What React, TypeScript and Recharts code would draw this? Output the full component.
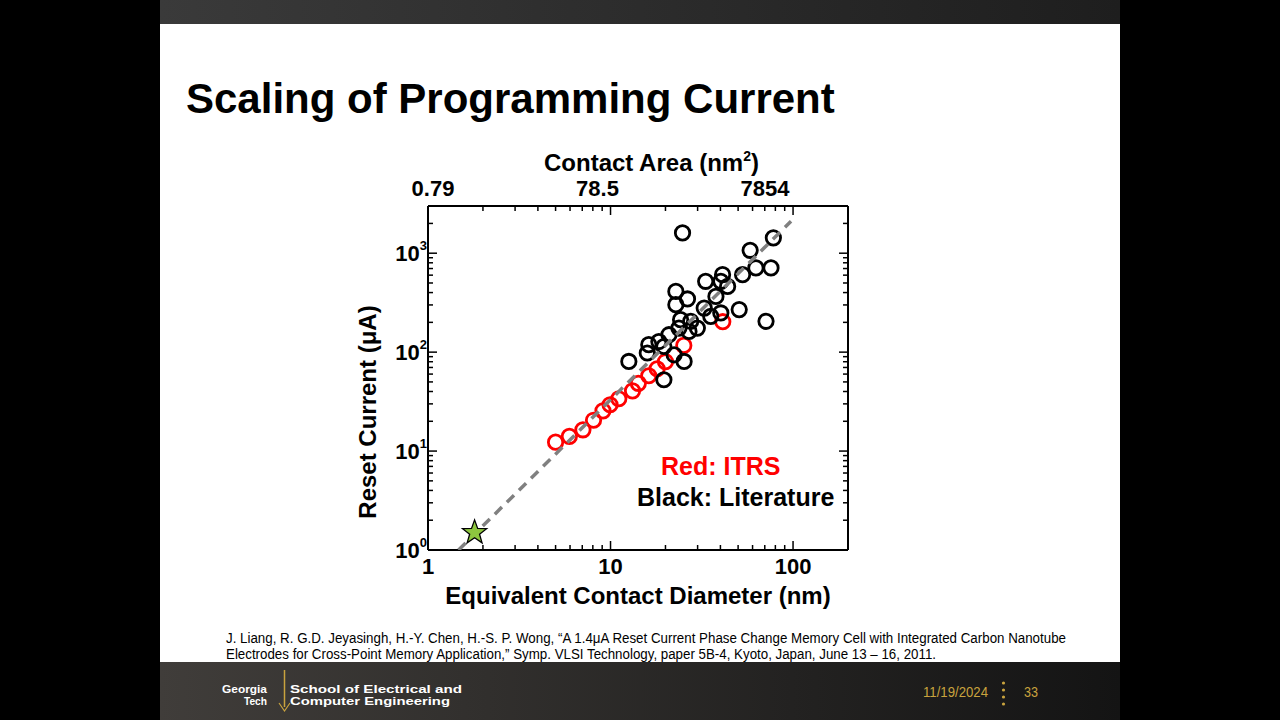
import { ScatterChart, Scatter, XAxis, YAxis } from 'recharts';

// equivalent contact diameter (nm) / reset current (uA)
const ITRS_DIAMETER = [5.0, 5.95, 7.06, 8.07, 9.09, 9.94, 11.1, 13.2, 14.2, 16.2, 18.0, 20.0, 25.2, 41.2];
const ITRS_CURRENT = [12.3, 14.1, 16.4, 20.5, 25.5, 29.4, 33.8, 40.6, 48.4, 57.7, 67.9, 80, 117, 203];

const LIT_DIAMETER = [
  24.8, 78.0, 58.2, 75.7, 62.6, 52.9, 41.1, 43.8, 40.2, 33.2,
  22.8, 26.4, 22.8, 37.8, 32.6, 50.7, 40.2, 35.4, 71.1, 24.2,
  27.5, 23.7, 29.9, 26.9, 20.9, 18.4, 16.2, 15.9, 19.6, 22.3,
  25.3, 12.6, 19.6,
];
const LIT_CURRENT = [
  1604, 1429, 1070, 710, 710, 607, 607, 462, 520, 520,
  411, 345, 302, 366, 279, 269, 249, 230, 205, 213,
  205, 175, 175, 162, 150, 128, 119, 98, 114, 94,
  80.5, 80.5, 52.6,
];

// trend line end points
const FIT_DIAMETER = [1.47, 97.5];
const FIT_CURRENT = [1, 2100];

// CNT electrode cell
const CNT_DIAMETER = [1.8];
const CNT_CURRENT = [1.5];

const X_TICKS = [1, 2, 3, 4, 5, 6, 7, 8, 9, 10, 20, 30, 40, 50, 60, 70, 80, 90, 100];
const Y_TICKS = [
  1, 2, 3, 4, 5, 6, 7, 8, 9, 10, 20, 30, 40, 50, 60, 70, 80, 90,
  100, 200, 300, 400, 500, 600, 700, 800, 900, 1000, 2000,
];
const X_MAJOR = [1, 10, 100];
const DIAMETER_LABELS = ['1', '10', '100'];
const AREA_LABELS = ['0.79', '78.5', '7854'];
const AREA_LABEL_DX = [5, -13, -28];
const Y_MAJOR = [1, 10, 100, 1000];
const Y_EXPONENTS = ['0', '1', '2', '3'];

const FONT = '"Liberation Sans", Arial, Helvetica, sans-serif';
const NARROW = '"Liberation Sans Narrow", "Arial Narrow", "Liberation Sans", sans-serif';
const GOLD = '#C9A33E';

const toPoints = (xs: number[], ys: number[]) => xs.map((d, k) => ({ d, i: ys[k] }));

const itrs = toPoints(ITRS_DIAMETER, ITRS_CURRENT);
const literature = toPoints(LIT_DIAMETER, LIT_CURRENT);
const fit = toPoints(FIT_DIAMETER, FIT_CURRENT);
const cnt = toPoints(CNT_DIAMETER, CNT_CURRENT);

const isMajor = (v: number) => Math.abs(Math.log10(v) - Math.round(Math.log10(v))) < 1e-6;
const MAJOR_LEN = 9;
const MINOR_LEN = 5;

const labelStyle = { fontFamily: FONT, fontWeight: 700, fontSize: 22, fill: '#000' };

function BottomTick({ x, y, payload }: any) {
  const v = payload.value;
  const len = isMajor(v) ? MAJOR_LEN : MINOR_LEN;
  const k = X_MAJOR.indexOf(v);
  return (
    <g>
      <line x1={x} x2={x} y1={y} y2={y - len} stroke="#000" strokeWidth={1.5} />
      {k >= 0 && (
        <text x={x} y={y + 24} textAnchor="middle" style={labelStyle}>
          {DIAMETER_LABELS[k]}
        </text>
      )}
    </g>
  );
}

function TopTick({ x, y, payload }: any) {
  const v = payload.value;
  const len = isMajor(v) ? MAJOR_LEN : MINOR_LEN;
  const k = X_MAJOR.indexOf(v);
  return (
    <g>
      <line x1={x} x2={x} y1={y} y2={y + len} stroke="#000" strokeWidth={1.5} />
      {k >= 0 && (
        <text x={x + AREA_LABEL_DX[k]} y={y - 10} textAnchor="middle" style={labelStyle}>
          {AREA_LABELS[k]}
        </text>
      )}
    </g>
  );
}

function LeftTick({ x, y, payload }: any) {
  const v = payload.value;
  const len = isMajor(v) ? MAJOR_LEN : MINOR_LEN;
  const k = Y_MAJOR.indexOf(v);
  return (
    <g>
      <line x1={x} x2={x + len} y1={y} y2={y} stroke="#000" strokeWidth={1.5} />
      {k >= 0 && (
        <text x={x - 1} y={y + 8} textAnchor="end" style={labelStyle}>
          <tspan>10</tspan>
          <tspan dy={-11} fontSize={13}>{Y_EXPONENTS[k]}</tspan>
        </text>
      )}
    </g>
  );
}

function RightTick({ x, y, payload }: any) {
  const len = isMajor(payload.value) ? MAJOR_LEN : MINOR_LEN;
  return <line x1={x} x2={x - len} y1={y} y2={y} stroke="#000" strokeWidth={1.5} />;
}

const ring = (color: string) => (p: any) => (
  <circle cx={p.cx} cy={p.cy} r={7.2} fill="none" stroke={color} strokeWidth={2.8} />
);

const star = (p: any) => {
  const R = 12.7;
  const r = 5.2;
  const pts: string[] = [];
  for (let k = 0; k < 10; k++) {
    const a = -Math.PI / 2 + (k * Math.PI) / 5;
    const rad = k % 2 === 0 ? R : r;
    pts.push(`${p.cx + rad * Math.cos(a)},${p.cy + rad * Math.sin(a)}`);
  }
  return <polygon points={pts.join(' ')} fill="#8DC63F" stroke="#000" strokeWidth={1.3} />;
};

const noMarker = () => <g />;

const AXIS = { stroke: '#000', strokeWidth: 2 };

function CurrentChart() {
  const common = {
    type: 'number' as const,
    scale: 'log' as const,
    allowDataOverflow: true,
    interval: 0 as const,
    tickSize: 0,
    tickMargin: 0,
    tickLine: false,
    axisLine: AXIS,
  };
  return (
    <ScatterChart width={540} height={480} margin={{ top: 16, right: 12, bottom: 20, left: 28 }}>
      <XAxis xAxisId="b" dataKey="d" domain={[1, 200]} ticks={X_TICKS} height={50} tick={(p: any) => <BottomTick {...p} />} {...common} />
      <XAxis xAxisId="t" orientation="top" dataKey="d" domain={[1, 200]} ticks={X_TICKS} height={50} tick={(p: any) => <TopTick {...p} />} {...common} />
      <YAxis yAxisId="l" dataKey="i" domain={[1, 3000]} ticks={Y_TICKS} width={60} tick={(p: any) => <LeftTick {...p} />} {...common} />
      <YAxis yAxisId="r" orientation="right" dataKey="i" domain={[1, 3000]} ticks={Y_TICKS} width={20} tick={(p: any) => <RightTick {...p} />} {...common} />
      <Scatter xAxisId="b" yAxisId="l" data={itrs} shape={ring('#FF0000')} isAnimationActive={false} />
      <Scatter xAxisId="b" yAxisId="l" data={literature} shape={ring('#000000')} isAnimationActive={false} />
      <Scatter
        xAxisId="b"
        yAxisId="l"
        data={fit}
        shape={noMarker}
        line={{ stroke: '#808080', strokeWidth: 3.5, strokeDasharray: '10 7' }}
        isAnimationActive={false}
      />
      <Scatter xAxisId="b" yAxisId="l" data={cnt} shape={star} isAnimationActive={false} />
    </ScatterChart>
  );
}

export default function App() {
  return (
    <div style={{ position: 'absolute', left: 0, top: 0, width: 1280, height: 720, background: '#000', overflow: 'hidden' }}>
      <svg width={1280} height={720} style={{ position: 'absolute', left: 0, top: 0 }}>
        <defs>
          <linearGradient id="topbar" x1="0" y1="0" x2="1" y2="0">
            <stop offset="0" stopColor="#3a3a3a" />
            <stop offset="1" stopColor="#1e1e1e" />
          </linearGradient>
          <linearGradient id="footer" x1="0" y1="0" x2="1" y2="0">
            <stop offset="0" stopColor="#403d3a" />
            <stop offset="1" stopColor="#141414" />
          </linearGradient>
        </defs>
        <rect x={160} y={0} width={960} height={24} fill="url(#topbar)" />
        <rect x={160} y={24} width={960} height={638} fill="#fff" />
        <rect x={160} y={662} width={960} height={58} fill="url(#footer)" />

        <text x={186} y={113} style={{ fontFamily: FONT, fontWeight: 700, fontSize: 42 }} fill="#000">
          Scaling of Programming Current
        </text>

        <text x={544} y={171} style={{ fontFamily: FONT, fontWeight: 700, fontSize: 24 }} fill="#000">
          Contact Area (nm<tspan dy={-10} fontSize={14}>2</tspan><tspan dy={10}>)</tspan>
        </text>
        <text x={638} y={604} textAnchor="middle" style={{ fontFamily: FONT, fontWeight: 700, fontSize: 24 }} fill="#000">
          Equivalent Contact Diameter (nm)
        </text>
        <text
          transform="translate(376,412) rotate(-90)"
          textAnchor="middle"
          style={{ fontFamily: FONT, fontWeight: 700, fontSize: 24 }}
          fill="#000"
        >
          Reset Current (μA)
        </text>

        <text x={661} y={475} style={{ fontFamily: FONT, fontWeight: 700, fontSize: 25 }} fill="#FF0000">
          Red: ITRS
        </text>
        <text x={637} y={506} style={{ fontFamily: FONT, fontWeight: 700, fontSize: 25 }} fill="#000">
          Black: Literature
        </text>

        <g style={{ fontFamily: NARROW, fontSize: 14 }} fill="#000">
          <text x={226} y={643} textLength={840} lengthAdjust="spacingAndGlyphs">
            J. Liang, R. G.D. Jeyasingh, H.-Y. Chen, H.-S. P. Wong, “A 1.4μA Reset Current Phase Change Memory Cell with Integrated Carbon Nanotube
          </text>
          <text x={226} y={659} textLength={710} lengthAdjust="spacingAndGlyphs">
            Electrodes for Cross-Point Memory Application,” Symp. VLSI Technology, paper 5B-4, Kyoto, Japan, June 13 – 16, 2011.
          </text>
        </g>

        <g style={{ fontFamily: FONT, fontWeight: 700, fontSize: 11.5 }} fill="#fff">
          <text x={267} y={693} textAnchor="end" textLength={45} lengthAdjust="spacingAndGlyphs">Georgia</text>
          <text x={267} y={705} textAnchor="end" textLength={23} lengthAdjust="spacingAndGlyphs">Tech</text>
          <text x={290} y={693} textLength={172} lengthAdjust="spacingAndGlyphs">School of Electrical and</text>
          <text x={290} y={705} textLength={160} lengthAdjust="spacingAndGlyphs">Computer Engineering</text>
        </g>
        <line x1={284.5} x2={284.5} y1={670} y2={707} stroke={GOLD} strokeWidth={1.5} />
        <polyline points="279,703 284.5,711 290,703" fill="none" stroke={GOLD} strokeWidth={1.2} />

        <g style={{ fontFamily: NARROW, fontSize: 15 }} fill={GOLD}>
          <text x={923} y={697} textLength={65} lengthAdjust="spacingAndGlyphs">11/19/2024</text>
          <text x={1024} y={697} textLength={14} lengthAdjust="spacingAndGlyphs">33</text>
        </g>
        {[683, 690, 697, 704].map((cy) => (
          <circle key={cy} cx={1003.5} cy={cy} r={1.6} fill={GOLD} />
        ))}
      </svg>
      <div style={{ position: 'absolute', left: 340, top: 140 }}>
        <CurrentChart />
      </div>
    </div>
  );
}
